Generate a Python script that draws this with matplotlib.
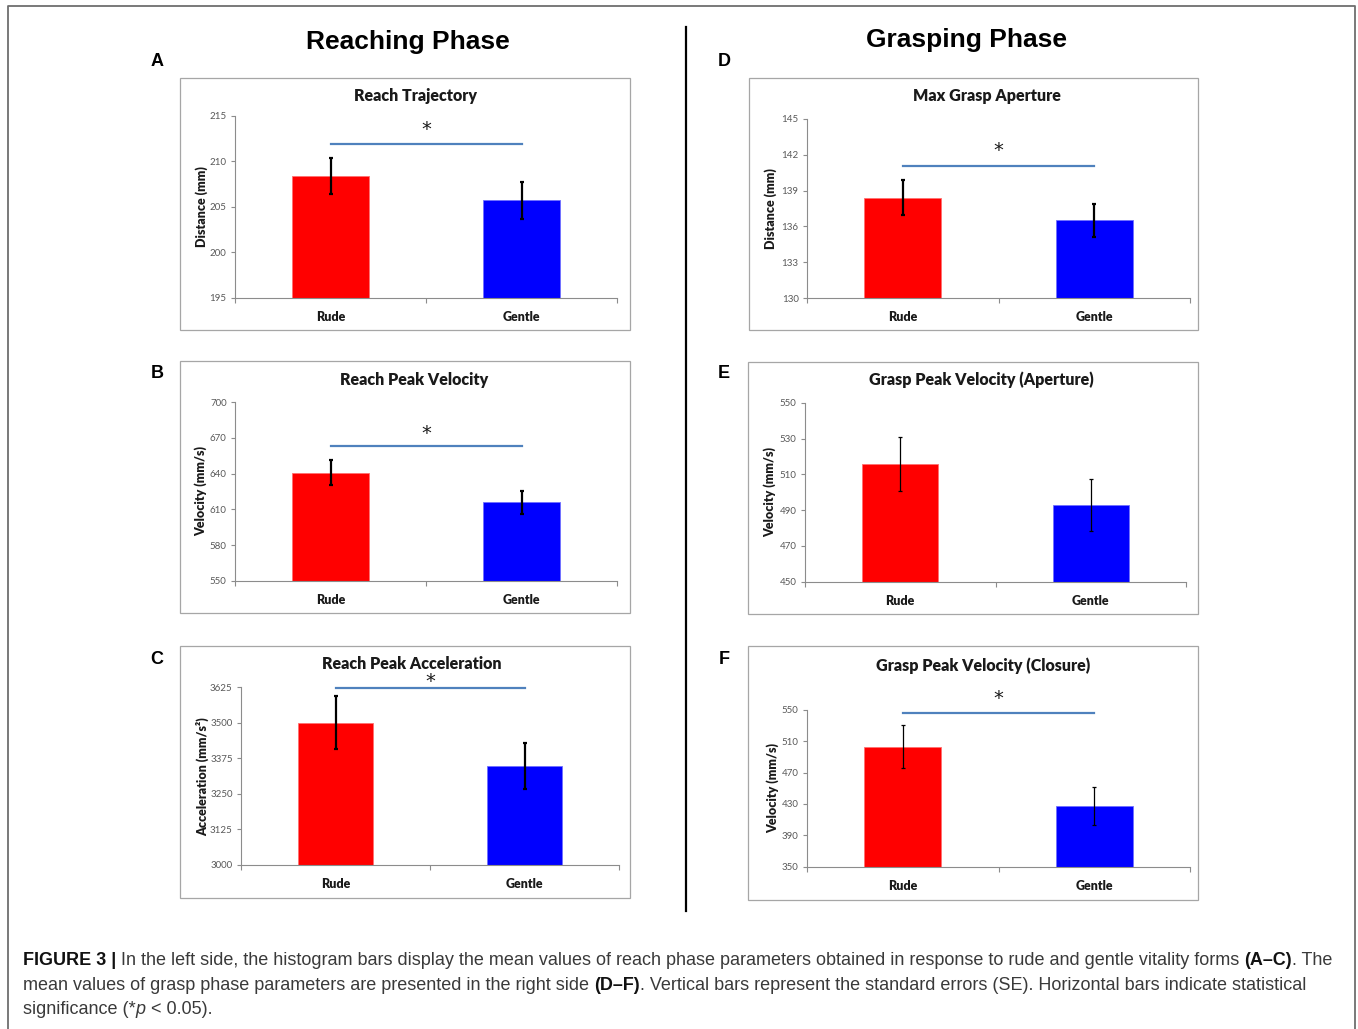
"""Figure 3: reach and grasp kinematics for rude vs gentle vitality forms."""

import matplotlib

matplotlib.use("Agg")
import matplotlib.pyplot as plt
from matplotlib.lines import Line2D
from matplotlib.patches import Rectangle

W, H = 1358, 1029
DPI = 100

categories = ["Rude", "Gentle"]

# Reaching phase
reach_traj_mean = [208.4, 205.7]
reach_traj_se = [2.0, 2.0]
reach_vel_mean = [640.8, 615.9]
reach_vel_se = [10.4, 9.5]
reach_acc_mean = [3500, 3348]
reach_acc_se = [93, 80]

# Grasping phase
mga_mean = [138.4, 136.5]
mga_se = [1.45, 1.4]
grasp_vel_ap_mean = [516, 493]
grasp_vel_ap_se = [15, 14.7]
grasp_vel_cl_mean = [503, 427]
grasp_vel_cl_se = [27.6, 24.4]

# level of the significance bar (None = not significant)
sig_levels = [211.9, 663, 3623, 141.1, None, 545.3]

panels = [
    dict(letter="A", title="Reach Trajectory", ylabel="Distance (mm)",
         mean=reach_traj_mean, se=reach_traj_se, yticks=list(range(195, 216, 5)),
         box=(180, 78, 630, 330), axes=(235, 115.7, 617, 298),
         title_xy=(415, 96), ylabel_x=202, letter_xy=(157, 60), bold_err=True, star_off=14.5),
    dict(letter="B", title="Reach Peak Velocity", ylabel="Velocity (mm/s)",
         mean=reach_vel_mean, se=reach_vel_se, yticks=list(range(550, 701, 30)),
         box=(180, 361, 630, 613), axes=(235, 402.3, 617, 580.7),
         title_xy=(414, 380), ylabel_x=201, letter_xy=(157, 372), bold_err=True, star_off=13),
    dict(letter="C", title="Reach Peak Acceleration", ylabel="Acceleration (mm/s²)",
         mean=reach_acc_mean, se=reach_acc_se, yticks=list(range(3000, 3626, 125)),
         box=(180, 646, 630, 898), axes=(241, 687.3, 619, 865),
         title_xy=(412, 664), ylabel_x=203, letter_xy=(157, 657), bold_err=True, star_off=6.5),
    dict(letter="D", title="Max Grasp Aperture", ylabel="Distance (mm)",
         mean=mga_mean, se=mga_se, yticks=list(range(130, 146, 3)),
         box=(749, 78, 1198, 330), axes=(807, 119, 1190, 298),
         title_xy=(987, 96), ylabel_x=771, letter_xy=(724, 60), bold_err=True, star_off=15),
    dict(letter="E", title="Grasp Peak Velocity (Aperture)", ylabel="Velocity (mm/s)",
         mean=grasp_vel_ap_mean, se=grasp_vel_ap_se, yticks=list(range(450, 551, 20)),
         box=(748, 362, 1198, 614), axes=(805, 403, 1186, 581.7),
         title_xy=(981, 380), ylabel_x=770, letter_xy=(724, 372), bold_err=False, star_off=15),
    dict(letter="F", title="Grasp Peak Velocity (Closure)", ylabel="Velocity (mm/s)",
         mean=grasp_vel_cl_mean, se=grasp_vel_cl_se, yticks=list(range(350, 551, 40)),
         box=(748, 646, 1198, 900), axes=(807, 709.7, 1190, 866.7),
         title_xy=(983, 666), ylabel_x=773, letter_xy=(724, 657), bold_err=False, star_off=15),
]

CAL = ["Lato", "DejaVu Sans"]
ARIAL = ["Liberation Sans", "DejaVu Sans"]
AXIS_GREY = "#8c8c8c"
SIG_BLUE = "#4f81bd"
HEAVY = "heavy"


def fx(x):
    return x / W


def fy(y):
    return 1 - y / H


def draw_panel(fig, p, sig):
    l, t, r, b = p["axes"]
    ax = fig.add_axes([fx(l), fy(b), fx(r) - fx(l), fy(t) - fy(b)])
    x = list(range(len(categories)))
    ax.bar(x, p["mean"], width=0.4, color=["#ff0000", "#0000ff"],
           edgecolor=["#ff7070", "#7070ff"], linewidth=0.6, zorder=2)
    lw = 1.6 if p["bold_err"] else 0.9
    ax.errorbar(x, p["mean"], yerr=p["se"], fmt="none", ecolor="black",
                elinewidth=lw, capsize=1.6, capthick=lw, zorder=3)
    ax.set_xlim(-0.5, 1.5)
    ax.set_ylim(p["yticks"][0], p["yticks"][-1])
    ax.set_yticks(p["yticks"])
    ax.set_xticks(x, categories)
    ax.set_xticks([-0.5, 0.5, 1.5], minor=True)
    ax.tick_params(axis="x", which="major", length=0, pad=9.5)
    ax.tick_params(axis="x", which="minor", length=3.5, width=0.8, color=AXIS_GREY, direction="out")
    ax.tick_params(axis="y", length=3, width=0.8, color=AXIS_GREY, pad=3,
                   labelsize=7, labelcolor="#595959")
    for lab in ax.get_yticklabels():
        lab.set_fontfamily(CAL)
    for lab in ax.get_xticklabels():
        lab.set_fontfamily(CAL)
        lab.set_fontweight(HEAVY)
        lab.set_fontsize(9)
        lab.set_color("#1a1a1a")
    for side in ("top", "right"):
        ax.spines[side].set_visible(False)
    for side in ("left", "bottom"):
        ax.spines[side].set_color(AXIS_GREY)
        ax.spines[side].set_linewidth(0.8)
    ax.set_facecolor("none")

    if sig is not None:
        ax.plot([0, 1], [sig, sig], color=SIG_BLUE, lw=1.6, clip_on=False, zorder=4)
        ax.annotate("*", xy=(0.5, sig), xytext=(0, p["star_off"] * 72 / DPI),
                    textcoords="offset points", ha="center", va="center",
                    fontsize=14, fontfamily=["DejaVu Sans"], color="#1a1a1a",
                    annotation_clip=False)

    # panel frame, title, y label, panel letter
    bl, bt, br, bb = p["box"]
    fig.add_artist(Rectangle((fx(bl), fy(bb)), fx(br) - fx(bl), fy(bt) - fy(bb),
                             transform=fig.transFigure, fill=False,
                             edgecolor="#a6a6a6", linewidth=0.9))
    fig.text(fx(p["title_xy"][0]), fy(p["title_xy"][1]), p["title"], ha="center",
             va="center", fontsize=11.5, fontweight=HEAVY, fontfamily=CAL, color="#1a1a1a")
    fig.text(fx(p["ylabel_x"]), fy((t + b) / 2), p["ylabel"], rotation=90, ha="center",
             va="center", fontsize=9, fontweight=HEAVY, fontfamily=CAL, color="#1a1a1a")
    fig.text(fx(p["letter_xy"][0]), fy(p["letter_xy"][1] + 2), p["letter"], ha="center",
             va="center", fontsize=13, fontweight="bold", fontfamily=ARIAL)


def rich_line(fig, renderer, x, y, segments, size):
    """Draw one caption line made of differently styled pieces."""
    def width(s, **kw):
        a = fig.text(0, 0, s + "|", fontsize=size, fontfamily=ARIAL, **kw)
        bar = fig.text(0, 0, "|", fontsize=size, fontfamily=ARIAL, **kw)
        w = a.get_window_extent(renderer).width - bar.get_window_extent(renderer).width
        a.remove()
        bar.remove()
        return w

    for text, kw in segments:
        fig.text(fx(x), fy(y), text, fontsize=size, fontfamily=ARIAL, ha="left",
                 va="baseline", **kw)
        x += width(text, **kw)


def main():
    fig = plt.figure(figsize=(W / DPI, H / DPI), dpi=DPI)

    for p, sig in zip(panels, sig_levels):
        draw_panel(fig, p, sig)

    # phase headings and divider
    fig.text(fx(408), fy(42), "Reaching Phase", ha="center", va="center",
             fontsize=19, fontweight="bold", fontfamily=ARIAL)
    fig.text(fx(966), fy(40), "Grasping Phase", ha="center", va="center",
             fontsize=19, fontweight="bold", fontfamily=ARIAL)
    fig.add_artist(Line2D([fx(686), fx(686)], [fy(27), fy(911)], color="black", lw=1.6))

    # outer frame (open at the bottom)
    frame = dict(color="#6e6e6e", lw=1.3)
    fig.add_artist(Line2D([fx(8), fx(8), fx(1355), fx(1355)],
                          [fy(1029), fy(6), fy(6), fy(1029)], **frame))

    renderer = fig.canvas.get_renderer()
    normal = dict(color="#3a3a3a")
    bold = dict(color="#111111", fontweight="bold")
    caption = [
        [("FIGURE 3 | ", bold),
         ("In the left side, the histogram bars display the mean values of reach phase "
          "parameters obtained in response to rude and gentle vitality forms ", normal),
         ("(A–C)", bold), (". The", normal)],
        [("mean values of grasp phase parameters are presented in the right side ", normal),
         ("(D–F)", bold),
         (". Vertical bars represent the standard errors (SE). Horizontal bars indicate "
          "statistical", normal)],
        [("significance (*", normal), ("p", dict(normal, fontstyle="italic")),
         (" < 0.05).", normal)],
    ]
    for i, segs in enumerate(caption):
        rich_line(fig, renderer, 23, 965 + 24.5 * i, segs, 12.95)

    fig.savefig("out.png", dpi=DPI, facecolor="white")


if __name__ == "__main__":
    main()
